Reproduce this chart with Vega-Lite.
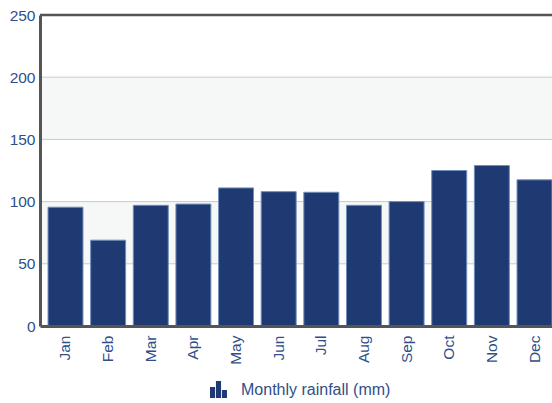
{"$schema":"https://vega.github.io/schema/vega-lite/v6.json","width":512,"height":311,"autosize":{"type":"none"},"padding":{"left":40,"top":15,"right":0,"bottom":77},"background":"white","config":{"view":{"stroke":null},"font":"Liberation Sans"},
"layer":[
{"data":{"values":[{"lo":50,"hi":100},{"lo":150,"hi":200}]},"mark":{"type":"rect","color":"#f6f7f7"},"encoding":{"y":{"field":"lo","type":"quantitative","scale":{"domain":[0,250]},"axis":{"title":null,"zindex":1,"values":[0,50,100,150,200,250],"labelFont":"Liberation Sans","labelFontSize":15.5,"labelColor":"#2f4f8a","labelPadding":5,"ticks":false,"domainColor":"#555555","domainWidth":3,"grid":false}},"y2":{"field":"hi"}}},
{"data":{"values":[{"g":50},{"g":100},{"g":150},{"g":200}]},"mark":{"type":"rule","color":"#c8cccc","strokeWidth":1},"encoding":{"y":{"field":"g","type":"quantitative","scale":{"domain":[0,250]}}}},
{"data":{"values":[{"month":"Jan","rain":95.5},{"month":"Feb","rain":69},{"month":"Mar","rain":97},{"month":"Apr","rain":98},{"month":"May","rain":111},{"month":"Jun","rain":108},{"month":"Jul","rain":107.5},{"month":"Aug","rain":97},{"month":"Sep","rain":100},{"month":"Oct","rain":125},{"month":"Nov","rain":129},{"month":"Dec","rain":117.5}]},
"transform":[{"calculate":"'Monthly rainfall (mm)'","as":"series"}],
"mark":{"type":"bar","stroke":"#6f8fbb","strokeWidth":1},
"encoding":{
"x":{"field":"month","type":"nominal","sort":null,"scale":{"range":[0,520],"paddingInner":0.18,"paddingOuter":0.188},"axis":{"title":null,"zindex":1,"labelAngle":-90,"labelAlign":"right","labelBaseline":"middle","labelFont":"Liberation Sans","labelFontSize":15.5,"labelColor":"#2f4f8a","labelPadding":9,"ticks":false,"domainColor":"#555555","domainWidth":3}},
"y":{"field":"rain","type":"quantitative","scale":{"domain":[0,250]}},
"color":{"field":"series","type":"nominal","scale":{"range":["#1f3a72"]},"legend":{"title":null,"orient":"none","legendX":170,"legendY":366,"symbolType":"M-1 1V-0.3H-0.4V1ZM-0.3 1V-1H0.3V1ZM0.4 1V0.05H1V1Z","symbolSize":289,"symbolStrokeWidth":0,"labelFont":"Liberation Sans","labelFontSize":16,"labelColor":"#2f4f8a","labelOffset":14}}}},
{"data":{"values":[{"top":250}]},"mark":{"type":"rule","color":"#555555","strokeWidth":2.5},"encoding":{"y":{"field":"top","type":"quantitative","scale":{"domain":[0,250]}}}}
]}
